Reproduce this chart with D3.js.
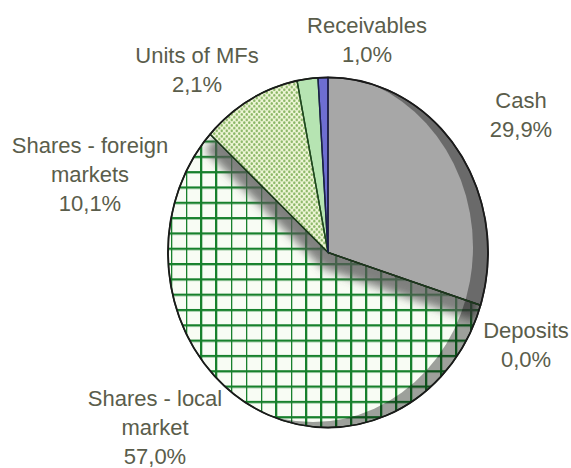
<!DOCTYPE html>
<html>
<head>
<meta charset="utf-8">
<script src="https://cdn.jsdelivr.net/npm/d3@7"></script>
<style>
  html, body { margin: 0; padding: 0; background: #fff; }
  #chart { width: 571px; height: 468px; }
  text { font-family: "Liberation Sans", Arial, sans-serif; }
</style>
</head>
<body>
<div id="chart"></div>
<script>
// data, clockwise from 12 o'clock
const categories = ["Cash", "Deposits", "Shares - local market", "Shares - foreign markets", "Units of MFs", "Receivables"];
const values = [29.9, 0.0, 57.0, 10.1, 2.1, 1.0];
const labelLines = [["Cash"], ["Deposits"], ["Shares - local", "market"], ["Shares - foreign", "markets"], ["Units of MFs"], ["Receivables"]];

// layout
const W = 571, H = 468;
const cx = 328, cy = 252.5, R = 160, yScale = 1.094;
const labelAt = [[521, 108], [526, 338], [155, 406], [90, 153], [197, 63], [367, 33]];
const lineGap = 29;
const fills = ["#a7a7a7", "#c8c8c8", "url(#grid)", "url(#dots)", "#b6e4b2", "#6e6ed2"];
const strokes = ["#222", "#222", "#1c3a1c", "#1c3a1c", "#1f4a1f", "#1c1c50"];

const pctFmt = v => d3.format(".1f")(v).replace(".", ",") + "%";

const svg = d3.select("#chart").append("svg")
    .attr("width", W).attr("height", H);

const defs = svg.append("defs");

const grid = defs.append("pattern").attr("id", "grid")
    .attr("patternUnits", "userSpaceOnUse")
    .attr("x", 7).attr("y", 9.6).attr("width", 15).attr("height", 14);
grid.append("rect").attr("width", 15).attr("height", 14).attr("fill", "#f8fcf4");
grid.append("rect").attr("width", 2.3).attr("height", 14).attr("fill", "#17802c");
grid.append("rect").attr("width", 15).attr("height", 2.1).attr("fill", "#17802c");

const dots = defs.append("pattern").attr("id", "dots")
    .attr("patternUnits", "userSpaceOnUse")
    .attr("width", 5).attr("height", 5);
dots.append("rect").attr("width", 5).attr("height", 5).attr("fill", "#eef5d6");
dots.append("circle").attr("cx", 1.25).attr("cy", 1.25).attr("r", 1.25).attr("fill", "#8ab766");
dots.append("circle").attr("cx", 3.75).attr("cy", 3.75).attr("r", 1.25).attr("fill", "#8ab766");

defs.append("filter").attr("id", "blur")
    .attr("x", "-20%").attr("y", "-20%").attr("width", "140%").attr("height", "140%")
    .append("feGaussianBlur").attr("stdDeviation", 4.5);

// crescent on the lower right, for the bevel look
const rimMask = defs.append("mask").attr("id", "rim")
    .attr("maskUnits", "userSpaceOnUse")
    .attr("x", -R - 20).attr("y", -R - 20).attr("width", 2 * R + 40).attr("height", 2 * R + 40);
rimMask.append("circle").attr("r", R).attr("fill", "#fff");
rimMask.append("circle").attr("cx", -15).attr("cy", -5).attr("r", R).attr("fill", "#000");

const pie = d3.pie().sort(null).value(d => d)(values);
const arc = d3.arc().innerRadius(0).outerRadius(R);

const g = svg.append("g")
    .attr("transform", `translate(${cx},${cy}) scale(1,${yScale})`);

defs.append("clipPath").attr("id", "localClip")
    .append("path")
    .attr("transform", `translate(${cx},${cy}) scale(1,${yScale})`)
    .attr("d", arc(pie[2]));

// big slice first
g.append("path")
    .attr("d", arc(pie[2]))
    .attr("fill", fills[2]);

// shadow of the other slices, falling on the big one
const shadowWrap = svg.append("g").attr("clip-path", "url(#localClip)");
shadowWrap.append("g")
    .attr("transform", `translate(${cx - 5},${cy + 16}) scale(1,${yScale})`)
    .attr("filter", "url(#blur)")
    .selectAll("path")
    .data(pie.filter((d, i) => i !== 2 && d.value > 0))
    .join("path")
    .attr("d", arc)
    .attr("fill", "#555")
    .attr("opacity", 0.75);

const g2 = svg.append("g")
    .attr("transform", `translate(${cx},${cy}) scale(1,${yScale})`);

g2.selectAll("path.slice")
    .data(pie.filter((d, i) => i !== 2 && d.value > 0))
    .join("path")
    .attr("class", "slice")
    .attr("d", arc)
    .attr("fill", d => fills[d.index]);

g2.append("rect")
    .attr("x", -R - 10).attr("y", -R - 10)
    .attr("width", 2 * R + 20).attr("height", 2 * R + 20)
    .attr("mask", "url(#rim)")
    .attr("fill", "#000")
    .attr("opacity", 0.36);

// outlines
g2.selectAll("path.edge")
    .data(pie)
    .join("path")
    .attr("class", "edge")
    .attr("d", arc)
    .attr("fill", "none")
    .attr("stroke", d => strokes[d.index])
    .attr("stroke-width", 1.4)
    .attr("vector-effect", "non-scaling-stroke");

g2.append("circle")
    .attr("r", R)
    .attr("fill", "none")
    .attr("stroke", "#1a1a1a")
    .attr("stroke-width", 1.8)
    .attr("vector-effect", "non-scaling-stroke");

// labels
const labels = svg.append("g")
    .attr("fill", "#5a5d4b")
    .attr("font-size", 22)
    .attr("text-anchor", "middle");

categories.forEach((c, i) => {
    const lines = labelLines[i].concat([pctFmt(values[i])]);
    const t = labels.append("text")
        .attr("x", labelAt[i][0]).attr("y", labelAt[i][1]);
    lines.forEach((s, k) => {
        t.append("tspan")
            .attr("x", labelAt[i][0])
            .attr("dy", k === 0 ? 0 : lineGap)
            .text(s);
    });
});
</script>
</body>
</html>
